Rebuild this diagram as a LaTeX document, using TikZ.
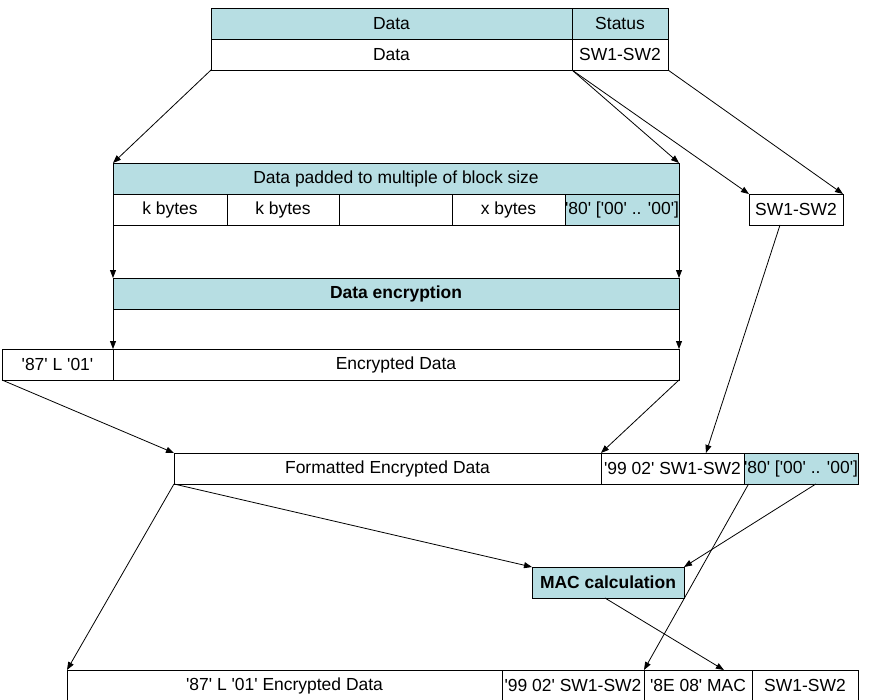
\documentclass[tikz,border=0pt]{standalone}
\usepackage{fontspec}
\setmainfont{Liberation Sans}
\usetikzlibrary{arrows.meta,calc}
\definecolor{tealc}{RGB}{183,222,227}
\newcommand\q{\textquotesingle}
\newcommand\cellat[7]{\node[cellb,#7,minimum width={(#4-#2)*0.75pt},minimum height={(#5-#3)*0.75pt}] (#1) at ({(#2+#4)/2},{(#3+#5)/2}) {#6};}
\tikzset{
  cellb/.style={draw,line width=0.6pt,inner sep=0pt,outer sep=0pt,font=\fontsize{13.1}{15}\selectfont},
  tealbox/.style={fill=tealc},
  boldtext/.style={font=\fontsize{13.1}{15}\selectfont\bfseries},
  arr/.style={-{Triangle[length=6pt,width=4.5pt]},line width=0.6pt},
}
\begin{document}
\begin{tikzpicture}[x=0.75pt,y=-0.75pt]
\useasboundingbox (0,0) rectangle (869,700);
% top block
\cellat{th1}{211}{8}{572}{39}{Data}{tealbox}
\cellat{th2}{572}{8}{668}{39}{Status}{tealbox}
\cellat{tb1}{211}{39}{572}{70}{Data}{}
\cellat{tb2}{572}{39}{668}{70}{SW1-SW2}{}
% padded block
\cellat{ph}{113}{163}{679}{194}{Data padded to multiple of block size}{tealbox}
\cellat{p1}{113}{194}{227}{225}{k bytes}{}
\cellat{p2}{227}{194}{339}{225}{k bytes}{}
\cellat{p3}{339}{194}{452}{225}{}{}
\cellat{p4}{452}{194}{565}{225}{x bytes}{}
\cellat{p5}{565}{194}{679}{225}{\q80\q{} [\q00\q{} .. \q00\q]}{tealbox}
% status copy
\cellat{sw}{749}{194}{843}{225}{SW1-SW2}{}
% encryption
\cellat{de}{113}{278}{679}{309}{Data encryption}{tealbox,boldtext}
% encrypted row
\cellat{e1}{2}{349}{113}{380}{\q87\q{} L \q01\q}{}
\cellat{e2}{113}{349}{679}{380}{Encrypted Data}{}
% formatted row
\cellat{f1}{174}{453}{601}{484}{Formatted Encrypted Data}{}
\cellat{f2}{601}{453}{744}{484}{\q99 02\q{} SW1-SW2}{}
\cellat{f3}{744}{453}{858}{484}{\q80\q{} [\q00\q{} .. \q00\q]}{tealbox}
% MAC
\cellat{mac}{532}{567}{684}{598}{MAC calculation}{tealbox,boldtext}
% bottom row
\cellat{b1}{67}{670}{502}{701}{\q87\q{} L \q01\q{} Encrypted Data}{}
\cellat{b2}{502}{670}{644}{701}{\q99 02\q{} SW1-SW2}{}
\cellat{b3}{644}{670}{752}{701}{\q8E 08\q{} MAC}{}
\cellat{b4}{752}{670}{858}{701}{SW1-SW2}{}
% connectors
\draw[arr] (tb1.south west) -- (ph.north west);
\draw[arr] (tb1.south east) -- (ph.north east);
\draw[arr] (tb1.south east) -- (sw.north west);
\draw[arr] (tb2.south east) -- (sw.north east);
\draw[arr] (p1.south west) -- (de.north west);
\draw[arr] (p5.south east) -- (de.north east);
\draw[arr] (de.south west) -- (e2.north west);
\draw[arr] (de.south east) -- (e2.north east);
\draw[arr] (e1.south west) -- (f1.north west);
\draw[arr] (e2.south east) -- (f2.north west);
\draw[arr] ($(sw.south west)!0.33!(sw.south east)$) -- ($(f2.north west)!0.734!(f2.north east)$);
\draw[arr] (f1.south west) -- (b1.north west);
\draw[arr] (f1.south west) -- (mac.north west);
\draw[arr] ($(f3.south west)!0.04!(f3.south east)$) -- (b3.north west);
\draw[arr] ($(f3.south west)!0.63!(f3.south east)$) -- (mac.north east);
\draw[arr] ($(mac.south west)!0.48!(mac.south east)$) -- ($(b3.north west)!0.74!(b3.north east)$);
\end{tikzpicture}
\end{document}
